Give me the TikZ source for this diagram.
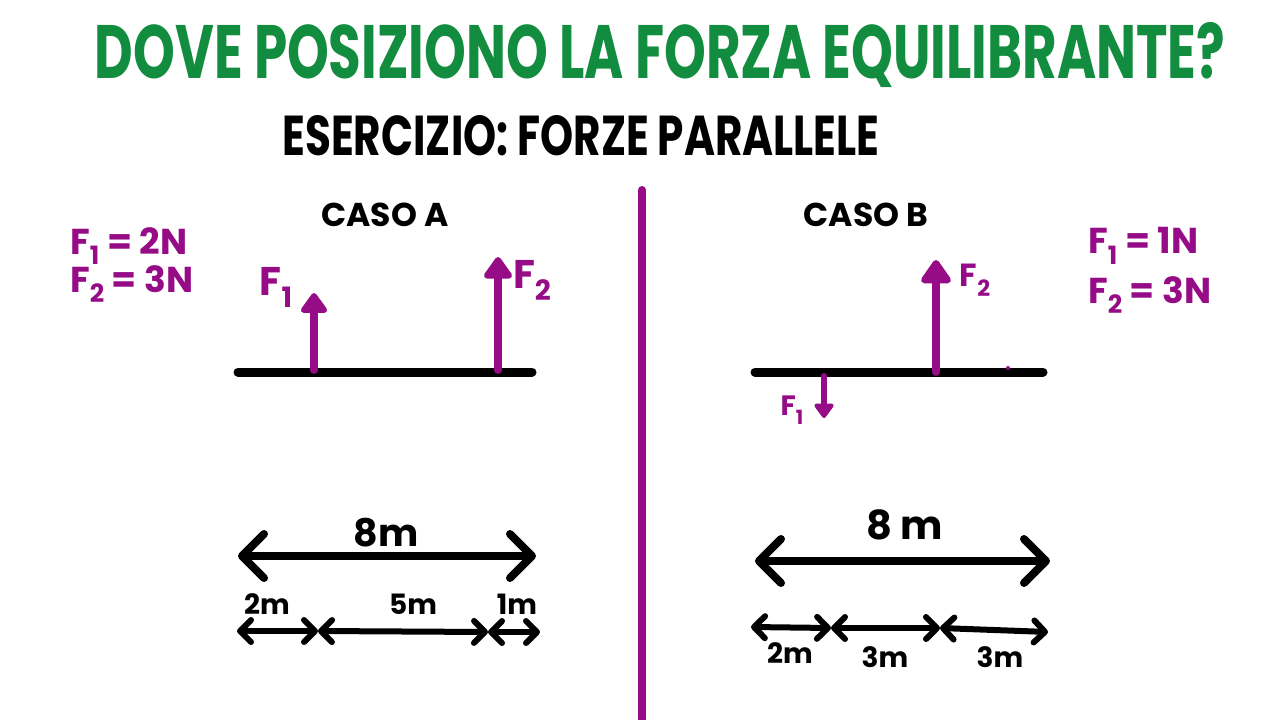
\documentclass[tikz,border=0pt]{standalone}
\usepackage{fontspec}
\setmainfont{Poppins}
\usetikzlibrary{arrows.meta}
\definecolor{tgreen}{RGB}{18,140,62}
\definecolor{tpurple}{RGB}{150,12,135}
\newcommand{\fsz}[1]{\fontsize{#1}{#1}\selectfont\bfseries}
\newcommand{\sbs}[1]{\raisebox{-0.3em}{\scalebox{0.7}{#1}}}
\begin{document}
\begin{tikzpicture}[x=1pt,y=-1pt,
  lbl/.style={inner sep=0pt, anchor=center},
  beam/.style={line width=9pt, line cap=round},
  force/.style={tpurple, line width=8pt, line cap=round,
    -{Triangle[round,length=22pt,width=30pt]}},
  bigdim/.style={line width=8pt, line cap=round,
    {Straight Barb[length=22pt,width=44pt,line cap=round,line join=round]}-{Straight Barb[length=22pt,width=44pt,line cap=round,line join=round]}},
  smalldim/.style={line width=6pt, line cap=round,
    {Straight Barb[length=11pt,width=22pt,line cap=round,line join=round]}-{Straight Barb[length=11pt,width=22pt,line cap=round,line join=round]}}
]
\useasboundingbox (0,0) rectangle (1280,720);
\fill[white] (0,0) rectangle (1280,720);

% titles
\node[lbl, tgreen] (title) at (660,55) {\resizebox{1130pt}{56pt}{\bfseries DOVE POSIZIONO LA FORZA EQUILIBRANTE?}};
\node[lbl] (subtitle) at (581,136) {\resizebox{597pt}{40pt}{\bfseries ESERCIZIO: FORZE PARALLELE}};

% divider
\coordinate (divtop) at (642,190);
\coordinate (divbot) at (642,724);
\draw[tpurple, line width=8pt, line cap=round] (divtop) -- (divbot);

% ---------- CASO A ----------
\node[lbl] (casoA) at (385,215) {\fsz{33pt}CASO A};
\node[lbl, tpurple, anchor=west] (gA1) at (70,246) {\fsz{36pt}F\sbs{1} = 2N};
\node[lbl, tpurple, anchor=west] (gA2) at (70,284) {\fsz{36pt}F\sbs{2} = 3N};

\coordinate (bAl) at (238,372);
\coordinate (bAr) at (532,372);
\draw[beam] (bAl) -- (bAr);
\coordinate (fA1s) at (314,370);
\coordinate (fA1e) at (314,293);
\coordinate (fA2s) at (498,370);
\coordinate (fA2e) at (498,257);
\draw[force] (fA1s) -- (fA1e);
\draw[force, -{Triangle[round,length=24pt,width=32pt]}] (fA2s) -- (fA2e);
\node[lbl, tpurple] (lA1) at (276,287) {\fsz{40pt}F\sbs{1}};
\node[lbl, tpurple] (lA2) at (532,280) {\fsz{40pt}F\sbs{2}};

\coordinate (dAl) at (238,556);
\coordinate (dAr) at (536,556);
\draw[bigdim] (dAl) -- (dAr);
\node[lbl] (dAlab) at (386,533) {\fsz{38pt}8m};
\coordinate (sA0) at (237,631);
\coordinate (sA1) at (318,631);
\coordinate (sA2) at (488,632);
\coordinate (sA3) at (540,632);
\draw[smalldim] (sA0) -- (sA1);
\draw[smalldim] (sA1) -- (sA2);
\draw[smalldim] (sA2) -- (sA3);
\node[lbl] (sAl1) at (267,604) {\fsz{28pt}2m};
\node[lbl] (sAl2) at (413,604) {\fsz{28pt}5m};
\node[lbl] (sAl3) at (517,604) {\fsz{28pt}1m};

% ---------- CASO B ----------
\node[lbl] (casoB) at (866,215) {\fsz{33pt}CASO B};
\node[lbl, tpurple, anchor=west] (gB1) at (1088,246) {\fsz{36pt}F\sbs{1} = 1N};
\node[lbl, tpurple, anchor=west] (gB2) at (1088,295) {\fsz{36pt}F\sbs{2} = 3N};

\coordinate (bBl) at (755,372);
\coordinate (bBr) at (1043,372);
\draw[beam] (bBl) -- (bBr);
\fill[tpurple] (1008,368) circle (2pt);
\coordinate (fB2s) at (936,372);
\coordinate (fB2e) at (936,260);
\draw[force, -{Triangle[round,length=26pt,width=34pt]}] (fB2s) -- (fB2e);
\coordinate (fB1s) at (824,376);
\coordinate (fB1e) at (824,418);
\draw[force, line width=6pt, -{Triangle[round,length=16pt,width=22pt]}] (fB1s) -- (fB1e);
\node[lbl, tpurple] (lB2) at (975,280) {\fsz{32pt}F\sbs{2}};
\node[lbl, tpurple] (lB1) at (792,410) {\fsz{28pt}F\sbs{1}};

\coordinate (dBl) at (755,561);
\coordinate (dBr) at (1050,561);
\draw[bigdim] (dBl) -- (dBr);
\node[lbl] (dBlab) at (905,525) {\fsz{40pt}8 m};
\coordinate (sB0) at (751,627);
\coordinate (sB1) at (831,628);
\coordinate (sB2) at (940,628);
\coordinate (sB3) at (1048,632);
\draw[smalldim] (sB0) -- (sB1);
\draw[smalldim] (sB1) -- (sB2);
\draw[smalldim] (sB2) -- (sB3);
\node[lbl] (sBl1) at (790,653) {\fsz{28pt}2m};
\node[lbl] (sBl2) at (885,657) {\fsz{28pt}3m};
\node[lbl] (sBl3) at (1000,657) {\fsz{28pt}3m};
\end{tikzpicture}
\end{document}
